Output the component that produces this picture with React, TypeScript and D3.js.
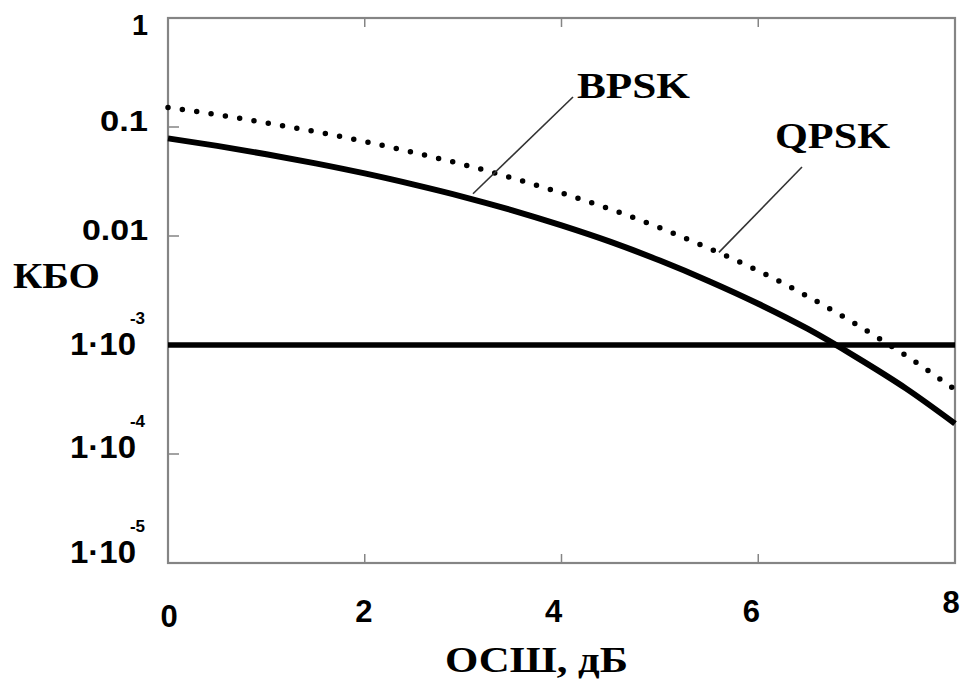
import React from "react";
import * as d3 from "d3";

const snrDb = [0, 0.5, 1, 1.5, 2, 2.5, 3, 3.5, 4, 4.5, 5, 5.5, 6, 6.5, 7, 7.5, 8];
const bpsk = [0.0786, 0.0671, 0.0563, 0.0464, 0.0375, 0.0296, 0.0229, 0.0172, 0.0125, 0.00882, 0.00595, 0.00385, 0.00239, 0.00141, 0.00077, 0.0004, 0.00019];
const qpsk = [0.151, 0.13, 0.109, 0.0907, 0.0736, 0.0583, 0.0453, 0.0341, 0.0248, 0.0176, 0.0119, 0.0077, 0.0048, 0.0028, 0.00154, 0.0008, 0.00039];
const threshold = 1e-3;
const xTicks = [0, 2, 4, 6, 8];
const yTicksPlain = [
  { v: 1, label: "1" },
  { v: 0.1, label: "0.1" },
  { v: 0.01, label: "0.01" },
];
const yTicksExp = [
  { v: 1e-3, mant: "1·10", exp: "-3" },
  { v: 1e-4, mant: "1·10", exp: "-4" },
  { v: 1e-5, mant: "1·10", exp: "-5" },
];

const W = 965;
const H = 684;
const L = 168, R = 955, T = 18, B = 563;

export default function App() {
  const x = d3.scaleLinear().domain([0, 8]).range([L, R]);
  const y = d3.scaleLog().domain([1e-5, 1]).range([B, T]);
  const line = d3
    .line<number>()
    .x((_, i) => x(snrDb[i]))
    .y((d) => y(d))
    .curve(d3.curveMonotoneX);

  const axisColor = "#858585";
  const sans = "'Liberation Sans', Arial, sans-serif";
  const serif = "'Liberation Serif', 'Times New Roman', serif";

  const xLabelOffsets = [
    { dx: 1, base: 627 },
    { dx: -1, base: 622 },
    { dx: -8, base: 622 },
    { dx: -7, base: 622 },
    { dx: -4, base: 613 },
  ];
  const plainLen = [16, 48, 66];

  return (
    <svg
      width={W}
      height={H}
      viewBox={`0 0 ${W} ${H}`}
      style={{ position: "absolute", left: 0, top: 0, background: "#fff" }}
    >
      <rect x={0} y={0} width={W} height={H} fill="#fff" />
      {/* axis box */}
      <rect x={L} y={T} width={R - L} height={B - T} fill="none" stroke={axisColor} strokeWidth={2.2} />
      {/* left ticks */}
      {[1, 0.1, 0.01, 1e-3, 1e-4, 1e-5].map((v) => (
        <line key={"ly" + v} x1={L} x2={L + 11} y1={y(v)} y2={y(v)} stroke={axisColor} strokeWidth={1.5} />
      ))}
      {/* bottom & top ticks */}
      {[2, 4, 6].map((v) => (
        <g key={"bt" + v}>
          <line x1={x(v)} x2={x(v)} y1={B} y2={B - 9} stroke={axisColor} strokeWidth={1.5} />
          <line x1={x(v)} x2={x(v)} y1={T} y2={T + 9} stroke={axisColor} strokeWidth={1.5} />
        </g>
      ))}

      {/* threshold line */}
      <line x1={L} x2={R} y1={y(threshold)} y2={y(threshold)} stroke="#000" strokeWidth={5.5} />

      {/* QPSK dotted */}
      <path
        d={line(qpsk) || ""}
        fill="none"
        stroke="#000"
        strokeWidth={5.5}
        strokeLinecap="round"
        strokeDasharray="0 14.5"
      />
      {/* BPSK solid */}
      <path d={line(bpsk) || ""} fill="none" stroke="#000" strokeWidth={6} />

      {/* leader lines */}
      <line x1={573} y1={97} x2={x(3.1)} y2={y(bpsk[6]) - 3} stroke="#333" strokeWidth={1.6} />
      <line x1={802} y1={167} x2={x(5.6)} y2={y(0.0065) - 4} stroke="#333" strokeWidth={1.6} />

      {/* series labels */}
      <text x={577} y={98} fontFamily={serif} fontWeight="bold" fontSize={36} textLength={113} lengthAdjust="spacingAndGlyphs" fill="#000">BPSK</text>
      <text x={775} y={148} fontFamily={serif} fontWeight="bold" fontSize={36} textLength={115} lengthAdjust="spacingAndGlyphs" fill="#000">QPSK</text>

      {/* y tick labels */}
      {yTicksPlain.map((t, i) => (
        <text
          key={"yp" + t.label}
          x={148 - plainLen[i]}
          y={i === 0 ? 35 : y(t.v) + 4}
          fontFamily={sans}
          fontWeight="bold"
          fontSize={29}
          textLength={plainLen[i]}
          lengthAdjust="spacingAndGlyphs"
          fill="#000"
        >
          {t.label}
        </text>
      ))}
      {yTicksExp.map((t, i) => {
        const base = i === 2 ? 563 : y(t.v) + (i === 0 ? 10 : 4);
        return (
          <g key={"ye" + t.exp}>
            <text x={70} y={base} fontFamily={sans} fontWeight="bold" fontSize={31} textLength={66} lengthAdjust="spacingAndGlyphs" fill="#000">
              {t.mant}
            </text>
            <text x={145} y={base - 31} textAnchor="end" fontFamily={sans} fontWeight="bold" fontSize={17} fill="#000">
              {t.exp}
            </text>
          </g>
        );
      })}

      {/* x tick labels */}
      {xTicks.map((v, i) => (
        <text
          key={"xt" + v}
          x={x(v) + xLabelOffsets[i].dx}
          y={xLabelOffsets[i].base}
          textAnchor="middle"
          fontFamily={sans}
          fontWeight="bold"
          fontSize={31}
          fill="#000"
        >
          {v}
        </text>
      ))}

      {/* axis titles */}
      <text x={445} y={672} fontFamily={serif} fontWeight="bold" fontSize={36} textLength={183} lengthAdjust="spacingAndGlyphs" fill="#000">ОСШ, дБ</text>
      <text x={13} y={288} fontFamily={serif} fontWeight="bold" fontSize={35} textLength={87} lengthAdjust="spacingAndGlyphs" fill="#000">КБО</text>
    </svg>
  );
}
